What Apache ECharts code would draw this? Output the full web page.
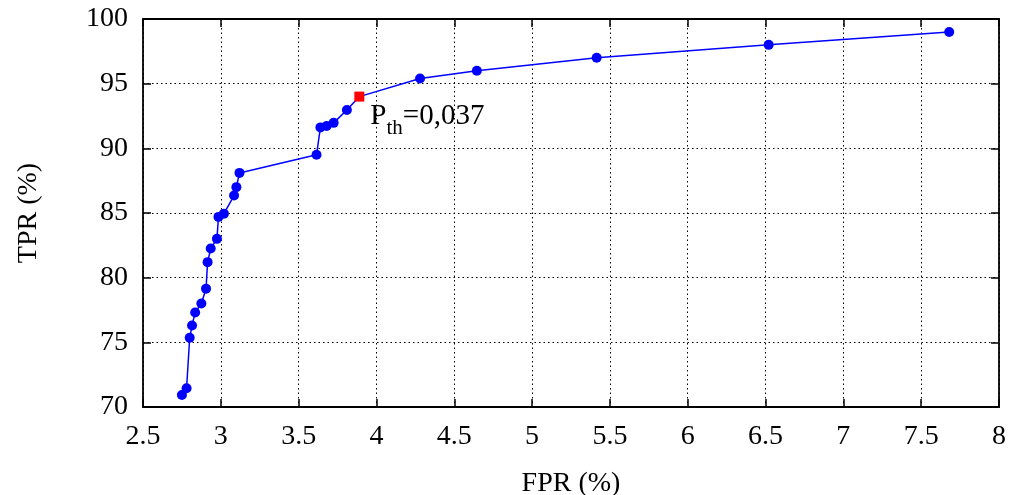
<!DOCTYPE html>
<html>
<head>
<meta charset="utf-8">
<script src="https://cdn.jsdelivr.net/npm/echarts@6/dist/echarts.min.js"></script>
<style>html,body{margin:0;padding:0;background:#fff}#c{width:1013px;height:495px}</style>
</head>
<body>
<div id="c"></div>
<script>
const fpr = [2.75, 2.78, 2.80, 2.815, 2.835, 2.875, 2.905, 2.915, 2.935, 2.975, 2.985, 3.02, 3.085, 3.10, 3.12, 3.615, 3.64, 3.68, 3.725, 3.81, 3.89, 4.28, 4.645, 5.415, 6.52, 7.68];
const tpr = [70.93, 71.45, 75.35, 76.3, 77.3, 78.0, 79.15, 81.2, 82.25, 83.0, 84.7, 84.95, 86.35, 87.0, 88.1, 89.5, 91.62, 91.73, 91.97, 92.97, 94.0, 95.4, 96.0, 97.0, 98.0, 99.0];
const thresholdIndex = 20;
const thresholdLabel = ['P', 'th', '=0,037'];
const xName = 'FPR (%)';
const yName = 'TPR (%)';

const FONT = "'Liberation Serif', 'DejaVu Serif', serif";
const chart = echarts.init(document.getElementById('c'), null, {renderer: 'canvas'});
const axLine = {show: true, onZero: false, lineStyle: {color: '#000', width: 1.8}};
const tick = {show: true, inside: true, length: 8, lineStyle: {color: '#000', width: 1.5}};
const split = {show: true, lineStyle: {color: '#000', width: 1, type: [1.5, 3]}};
const lbl = {color: '#000', fontFamily: FONT, fontSize: 28};
const pts = fpr.map((x, i) => i === thresholdIndex
  ? {value: [x, tpr[i]], symbol: 'rect', symbolSize: 10, itemStyle: {color: '#ff0000'},
     label: {show: true, position: 'right', distance: 6, offset: [0, 19], color: '#000',
       formatter: '{a|' + thresholdLabel[0] + '}{b|' + thresholdLabel[1] + '}{a|' + thresholdLabel[2] + '}',
       rich: {
         a: {fontFamily: FONT, fontSize: 29, color: '#000', lineHeight: 30, verticalAlign: 'bottom'},
         b: {fontFamily: FONT, fontSize: 21, color: '#000', lineHeight: 20, verticalAlign: 'bottom', padding: [0, 0, -8, 0]}
       }}}
  : [x, tpr[i]]);
chart.setOption({
  animation: false,
  backgroundColor: '#fff',
  grid: {left: 143, right: 14, top: 19, bottom: 88, outerBoundsMode: 'none', containLabel: false},
  xAxis: [
    {type: 'value', min: 2.5, max: 8, interval: 0.5, position: 'bottom',
     name: xName, nameLocation: 'middle', nameGap: 63,
     nameTextStyle: {color: '#000', fontFamily: FONT, fontSize: 28},
     axisLine: axLine, axisTick: tick, splitLine: split,
     axisLabel: Object.assign({margin: 16}, lbl)},
    {type: 'value', min: 2.5, max: 8, interval: 0.5, position: 'top',
     axisLine: axLine, axisTick: tick, splitLine: {show: false}, axisLabel: {show: false}}
  ],
  yAxis: [
    {type: 'value', min: 70, max: 100, interval: 5, position: 'left',
     name: yName, nameLocation: 'middle', nameGap: 100, nameRotate: 90,
     nameTextStyle: {color: '#000', fontFamily: FONT, fontSize: 28},
     axisLine: axLine, axisTick: tick, splitLine: split,
     axisLabel: Object.assign({margin: 15}, lbl)},
    {type: 'value', min: 70, max: 100, interval: 5, position: 'right',
     axisLine: axLine, axisTick: tick, splitLine: {show: false}, axisLabel: {show: false}}
  ],
  series: [
    {type: 'line', data: pts,
     symbol: 'circle', symbolSize: 10,
     lineStyle: {color: '#0000ff', width: 1.5},
     itemStyle: {color: '#0000ff'}, z: 2}
  ]
});
</script>
</body>
</html>
